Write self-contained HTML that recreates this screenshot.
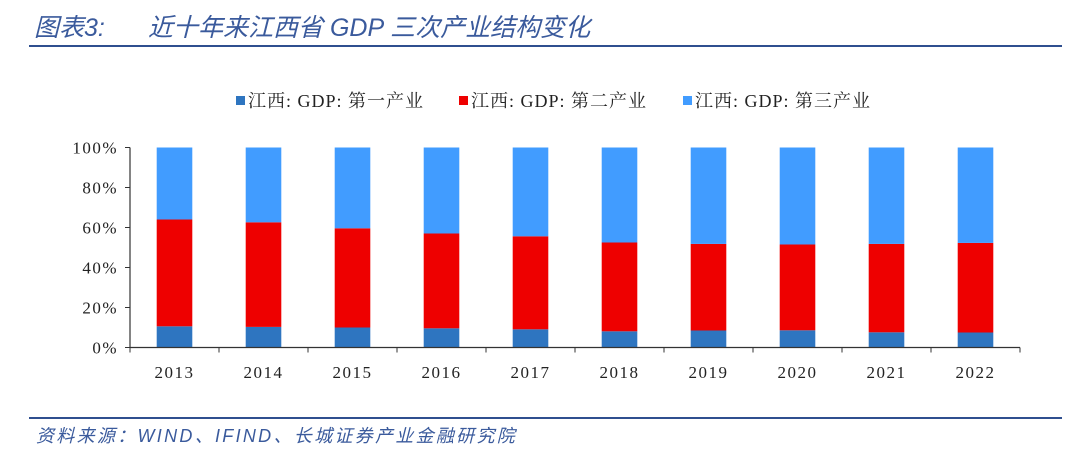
<!DOCTYPE html>
<html><head><meta charset="utf-8"><style>
body{margin:0;background:#fff;width:1080px;height:461px;overflow:hidden;font-family:"Liberation Serif","Noto Serif CJK SC",serif}
</style></head><body>
<svg width="1080" height="461" xmlns="http://www.w3.org/2000/svg">
<text x="34" y="36" font-family="'Liberation Sans','Noto Sans CJK SC',sans-serif" font-size="25" font-style="italic" fill="#3a5a9c" letter-spacing="0">图表3:<tspan x="148">近十年来江西省 GDP 三次产业结构变化</tspan></text>
<rect x="29" y="45" width="1033" height="2" fill="#2f4f8f"/>
<g id="legend"></g>
<g id="plot"></g>
<rect x="29" y="417" width="1033" height="2" fill="#2f4f8f"/>
<text x="36" y="442" font-family="'Liberation Sans','Noto Sans CJK SC',sans-serif" font-size="18" font-style="italic" fill="#3a5a9c" letter-spacing="2.3">资料来源：WIND、IFIND、长城证券产业金融研究院</text>
</svg>
<script>
const years=["2013","2014","2015","2016","2017","2018","2019","2020","2021","2022"];
const primary=[10.6,10.3,10.0,9.6,9.1,8.1,8.5,8.6,7.6,7.5];
const secondary=[53.4,52.3,49.6,47.4,46.5,44.4,43.3,42.9,44.2,44.8];
const tertiary=[36.0,37.4,40.4,43.0,44.4,47.5,48.2,48.5,48.2,47.7];
const yTicks=[0,20,40,60,80,100];
const seriesNames=["江西: GDP: 第一产业","江西: GDP: 第二产业","江西: GDP: 第三产业"];
const colors=["#2e75c0","#ee0000","#419cff"];
const NS="http://www.w3.org/2000/svg";
const x0=130,x1=1020,yB=347.5,yT=147.5;
const band=(x1-x0)/years.length,bw=35.6;
const y=v=>yB-(v/100)*(yB-yT);
const xc=i=>x0+band*(i+0.5);
const plot=document.getElementById('plot');
function mk(tag,a,parent){const e=document.createElementNS(NS,tag);for(const k in a)e.setAttribute(k,a[k]);(parent||plot).appendChild(e);return e;}
const series=[primary,secondary,tertiary];
years.forEach((yr,i)=>{let base=0;
 series.forEach((s,k)=>{const r=mk('rect',{x:xc(i)-bw/2,y:y(base+s[i]),width:bw,height:y(base)-y(base+s[i]),fill:colors[k]});
 
 
 base+=s[i];});
 const t=mk('text',{x:xc(i),y:378,'text-anchor':'middle','font-size':17,fill:'#222','letter-spacing':'1.5'});t.textContent=yr;
 
 
});
const ya=mk('line',{x1:x0,y1:yT,x2:x0,y2:yB,stroke:'#333','stroke-width':1.2});


const xa=mk('line',{x1:x0,y1:yB,x2:x1,y2:yB,stroke:'#333','stroke-width':1.2});


for(let i=0;i<=years.length;i++){mk('line',{x1:x0+band*i,y1:yB,x2:x0+band*i,y2:yB+5,stroke:'#333'});}
yTicks.forEach(v=>{mk('line',{x1:x0-5,y1:y(v),x2:x0,y2:y(v),stroke:'#333'});
 const t=mk('text',{x:x0-12,y:y(v)+6,'text-anchor':'end','font-size':17,fill:'#222','letter-spacing':'1.5'});t.textContent=v+'%';
 
 });
const lg=document.getElementById('legend');
const lx=[236,459,683];
seriesNames.forEach((n,k)=>{mk('rect',{x:lx[k],y:96,width:9,height:9,fill:colors[k]},lg);
 const t=mk('text',{x:lx[k]+12,y:107,'font-size':18,fill:'#222','letter-spacing':'1'},lg);t.textContent=n;
 
 });
</script>
</body></html>
